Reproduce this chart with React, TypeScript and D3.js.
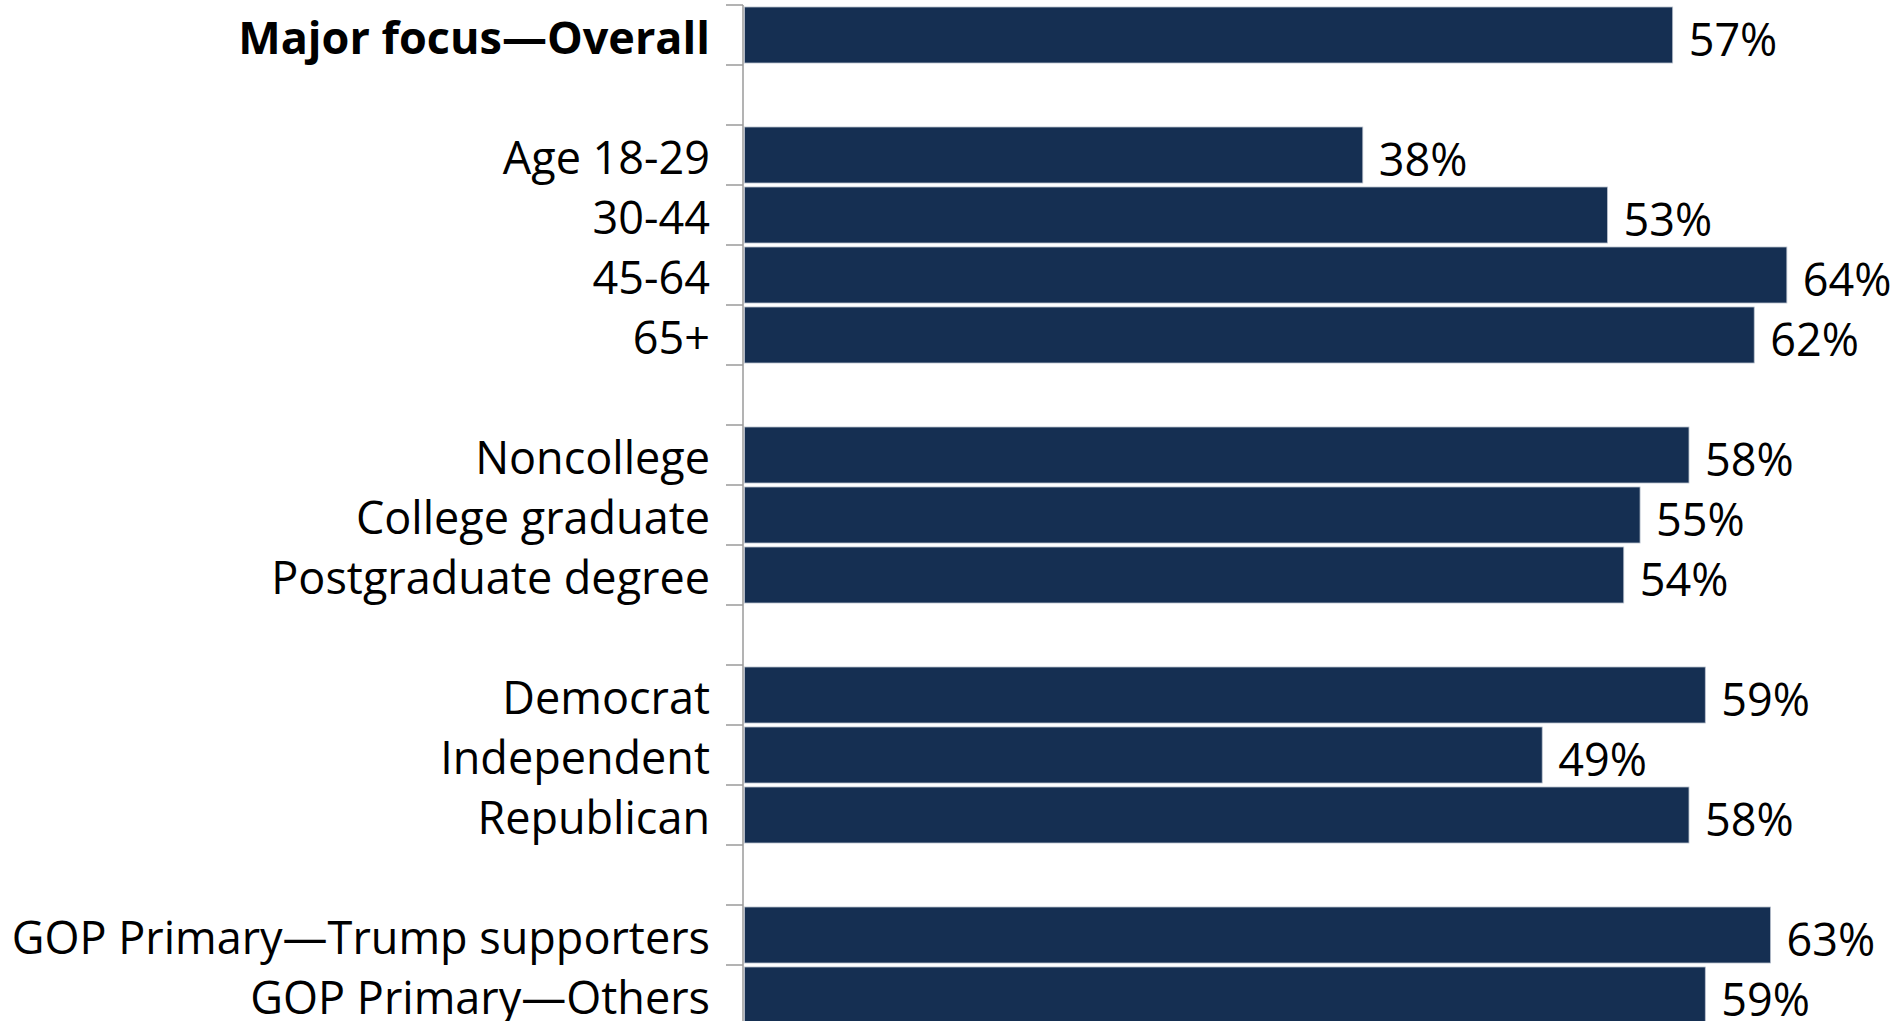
import React from "react";
import * as d3 from "d3";

const categories: string[] = [
  "Major focus—Overall",
  "",
  "Age 18-29",
  "30-44",
  "45-64",
  "65+",
  "",
  "Noncollege",
  "College graduate",
  "Postgraduate degree",
  "",
  "Democrat",
  "Independent",
  "Republican",
  "",
  "GOP Primary—Trump supporters",
  "GOP Primary—Others",
];

const values: (number | null)[] = [
  57, null, 38, 53, 64, 62, null, 58, 55, 54, null, 59, 49, 58, null, 63, 59,
];

const boldRows: number[] = [0];

const W = 1898;
const H = 1021;

export default function App() {
  const axisX = 743;
  const x = d3.scaleLinear().domain([0, 70]).range([axisX, axisX + 1141.7]);
  const idx = categories.map((_, i) => i);
  const y = d3
    .scaleBand<number>()
    .domain(idx)
    .range([5, 5 + 60 * categories.length])
    .paddingInner(0)
    .paddingOuter(0);
  const bw = y.bandwidth();
  const font = "'Open Sans', 'Noto Sans', sans-serif";
  const fs = 45;

  return (
    <svg
      width={W}
      height={H}
      style={{ position: "absolute", left: 0, top: 0, background: "#fff" }}
    >
      {/* bars */}
      {idx.map((i) => {
        const v = values[i];
        if (v == null) return null;
        const y0 = (y(i) as number) + 2;
        return (
          <rect
            key={"b" + i}
            x={x(0) + 1.5}
            y={y0}
            width={x(v) - x(0) - 1.5}
            height={bw - 4}
            fill="#152F52"
            stroke="#b8c0cc"
            strokeWidth={0.8}
          />
        );
      })}
      {/* axis line */}
      <line
        x1={axisX}
        x2={axisX}
        y1={y(0) as number}
        y2={H + 20}
        stroke="#9a9a9a"
        strokeWidth={1.5}
      />
      {/* ticks at band boundaries */}
      {d3.range(categories.length + 1).map((k) => {
        const yy = 5 + k * y.step();
        return (
          <line
            key={"t" + k}
            x1={axisX - 17}
            x2={axisX}
            y1={yy}
            y2={yy}
            stroke="#9a9a9a"
            strokeWidth={1.5}
          />
        );
      })}
      {/* category labels */}
      {idx.map((i) => {
        const c = categories[i];
        if (!c) return null;
        return (
          <text
            key={"l" + i}
            x={710}
            y={(y(i) as number) + bw / 2 + 18.5}
            textAnchor="end"
            fontFamily={font}
            fontSize={fs}
            fontWeight={boldRows.includes(i) ? 700 : 400}
            fill="#000"
          >
            {c}
          </text>
        );
      })}
      {/* value labels */}
      {idx.map((i) => {
        const v = values[i];
        if (v == null) return null;
        return (
          <text
            key={"v" + i}
            x={x(v) + 16}
            y={(y(i) as number) + bw / 2 + 21}
            textAnchor="start"
            fontFamily={font}
            fontSize={fs}
            fill="#000"
          >
            {v + "%"}
          </text>
        );
      })}
    </svg>
  );
}
